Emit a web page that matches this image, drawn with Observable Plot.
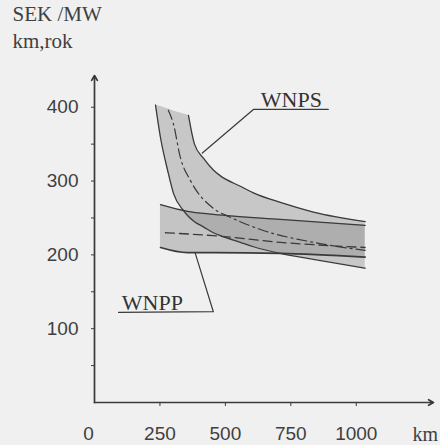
<!DOCTYPE html>
<html>
<head>
<meta charset="utf-8">
<script src="https://cdn.jsdelivr.net/npm/d3@7"></script>
<script src="https://cdn.jsdelivr.net/npm/@observablehq/plot@0.6"></script>
<style>
  html, body { margin: 0; padding: 0; background: #f0f0f0; }
</style>
</head>
<body>
<div id="chart"></div>
<script>
// Axis ticks
const xTicks = [250, 500, 750, 1000];
const yTicks = [50, 100, 150, 200, 250, 300, 350, 400];

// WNPS band (steep, hyperbolic), read at common distances
const wnpsX     = [233, 252, 279, 302, 340, 359, 382, 416, 454, 481, 557, 607, 710, 836, 1034];
const wnpsLower = [403, 359, 315, 283, 260, 252, 245, 238, 230, 226, 217, 211, 202, 194, 182];
const wnpsUpper = [403, 401, 398, 395, 391, 389, 350, 331, 315, 307, 293, 284, 271, 258, 245];
const wnpsMidX = [282, 301, 328, 366, 454, 519, 645, 836, 1034];
const wnpsMidY = [396, 378, 332, 301, 263, 251, 233, 217, 206];

// WNPP band (flat)
const wnppX     = [252, 355, 454, 710, 1034];
const wnppLower = [210, 203, 203, 202, 197];
const wnppUpper = [268, 259, 255, 248, 240];
const wnppMidX = [271, 454, 710, 1034];
const wnppMidY = [230, 226, 217, 210];

// Label leaders
const wnpsLeaderX = [412, 607, 893];
const wnpsLeaderY = [338, 397, 397];
const wnppLeaderX = [92, 454, 385];
const wnppLeaderY = [122, 123, 202];

const pts = (xs, ys) => xs.map((x, i) => ({x, y: ys[i]}));
const band = (xs, lo, hi) => xs.map((x, i) => ({x, lo: lo[i], hi: hi[i]}));

const wnps = band(wnpsX, wnpsLower, wnpsUpper);
const wnpp = band(wnppX, wnppLower, wnppUpper);

const ink = "#3a3a3a";
const serif = "Liberation Serif, Times New Roman, serif";
const curve = "monotone-x";

const chart = Plot.plot({
  width: 440,
  height: 445,
  marginLeft: 94,
  marginRight: 7,
  marginTop: 75,
  marginBottom: 43,
  x: {domain: [0, 1295], axis: null},
  y: {domain: [0, 443], axis: null},
  style: {background: "#f0f0f0", fontFamily: "Liberation Sans, Arial, sans-serif", fontSize: "19px", color: "#3f3f3f"},
  marks: [
    // band fills
    Plot.areaY(wnpp, {x: "x", y1: "lo", y2: "hi", fill: "#8e8e8e", fillOpacity: 0.45, curve}),
    Plot.areaY(wnps, {x: "x", y1: "lo", y2: "hi", fill: "#8e8e8e", fillOpacity: 0.42, curve}),
    // WNPP edges
    Plot.lineY(wnpp, {x: "x", y: "hi", stroke: ink, strokeWidth: 1.3, curve}),
    Plot.lineY(wnpp, {x: "x", y: "lo", stroke: ink, strokeWidth: 1.6, curve}),
    Plot.line(pts(wnppMidX, wnppMidY), {x: "x", y: "y", stroke: ink, strokeWidth: 1.3, strokeDasharray: "9,5", curve}),
    // WNPS edges
    Plot.lineY(wnps, {x: "x", y: "hi", filter: d => d.x >= 359, stroke: ink, strokeWidth: 1.3, curve}),
    Plot.lineY(wnps, {x: "x", y: "lo", stroke: ink, strokeWidth: 1.3, curve}),
    Plot.line(pts(wnpsMidX, wnpsMidY), {x: "x", y: "y", stroke: ink, strokeWidth: 1.2, strokeDasharray: "10,4,2,4", curve}),
    // leaders
    Plot.line(pts(wnpsLeaderX, wnpsLeaderY), {x: "x", y: "y", stroke: ink, strokeWidth: 1.2}),
    Plot.line(pts(wnppLeaderX, wnppLeaderY), {x: "x", y: "y", stroke: ink, strokeWidth: 1.2}),
    Plot.text(["WNPS"], {x: 752, y: 400, text: d => d, fontFamily: serif, fontSize: 22, lineAnchor: "bottom", fill: "#333"}),
    Plot.text(["WNPP"], {x: 221, y: 125, text: d => d, fontFamily: serif, fontSize: 22, lineAnchor: "bottom", fill: "#333"}),
    // axes
    Plot.arrow([0], {x1: 0, y1: 0, x2: 0, y2: 443, stroke: ink, strokeWidth: 1.7, headLength: 5}),
    Plot.arrow([0], {x1: 0, y1: 0, x2: 1295, y2: 0, stroke: ink, strokeWidth: 1.7, headLength: 5}),
    Plot.axisY(yTicks, {label: null, tickSize: 3, tickPadding: 13, tickFormat: d => d % 100 === 0 ? String(d) : "", stroke: ink}),
    Plot.axisX(xTicks, {label: null, tickSize: 4, tickPadding: 20, tickFormat: d => String(d), stroke: ink}),
    Plot.text(["0"], {x: 0, frameAnchor: "bottom", dx: -6, dy: 24, text: d => d, lineAnchor: "top"}),
    Plot.text(["km"], {frameAnchor: "bottom-right", dx: -21, dy: 24, text: d => d, textAnchor: "start", lineAnchor: "top", fontFamily: serif, fontSize: 20}),
    // y unit title
    Plot.text(["SEK /MW"], {frameAnchor: "top-left", dx: -82, dy: -69, text: d => d, textAnchor: "start", lineAnchor: "top", fontFamily: serif, fontSize: 21}),
    Plot.text(["km,rok"], {frameAnchor: "top-left", dx: -82, dy: -42, text: d => d, textAnchor: "start", lineAnchor: "top", fontFamily: serif, fontSize: 21})
  ]
});

document.getElementById("chart").append(chart);
</script>
</body>
</html>
